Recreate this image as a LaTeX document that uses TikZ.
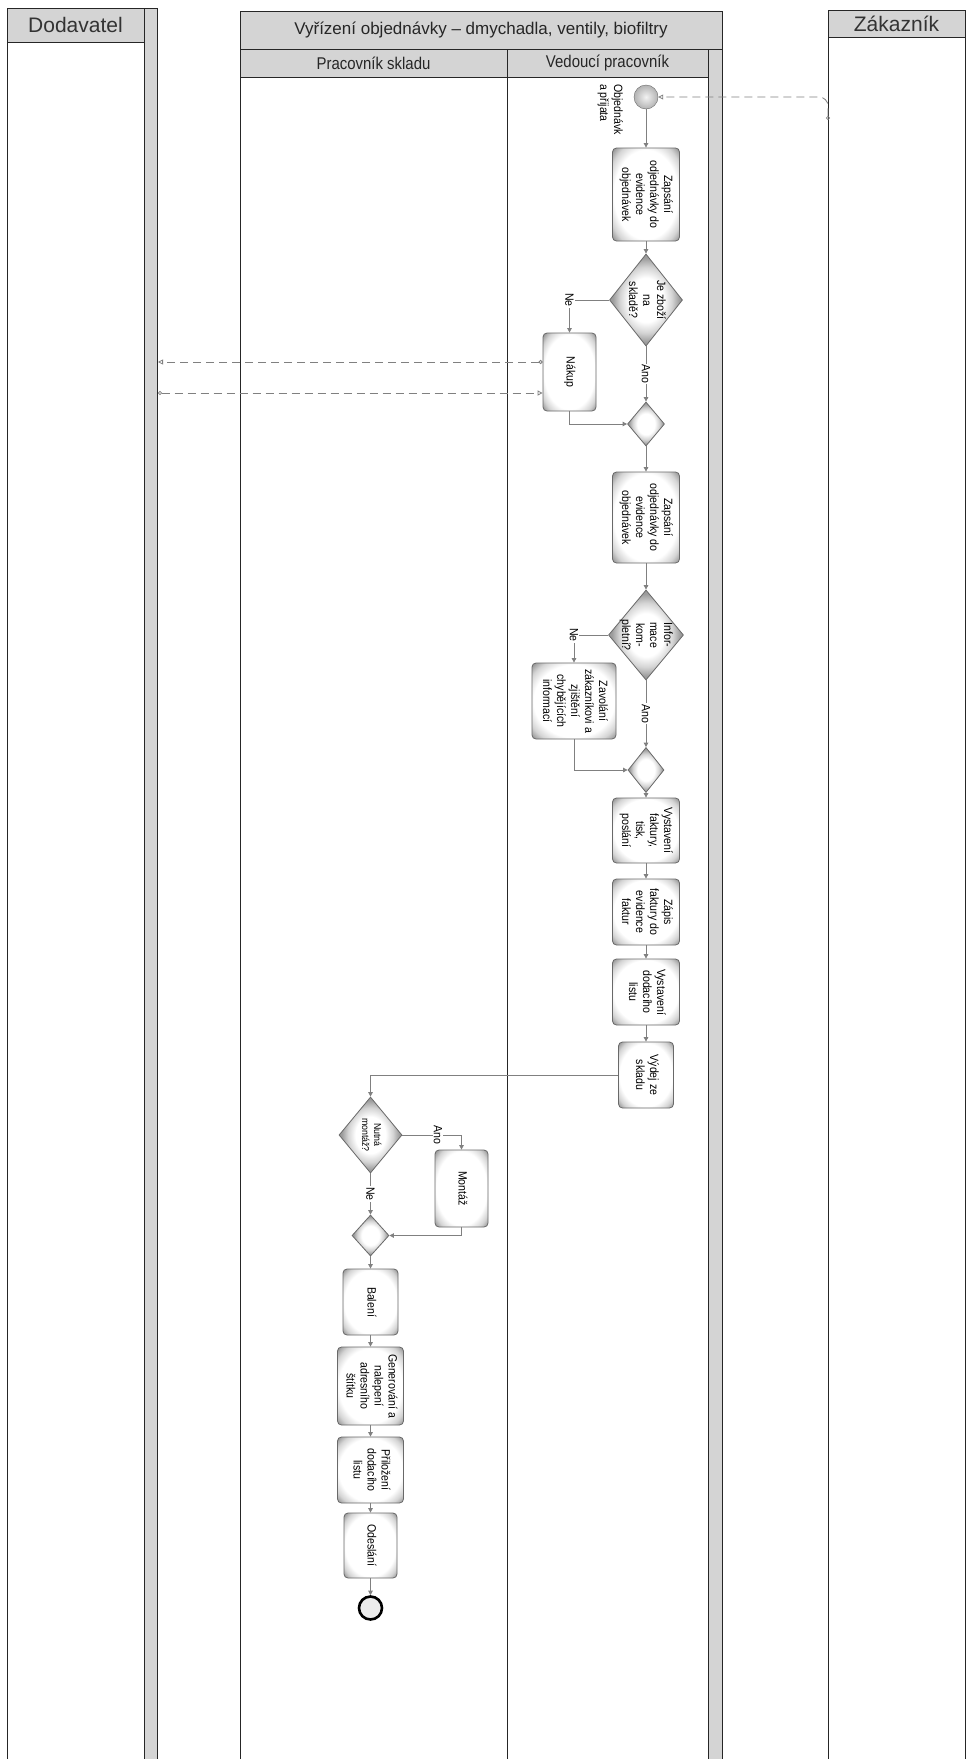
\documentclass[tikz,border=0pt]{standalone}
\usepackage{fontspec}
\setmainfont{Liberation Sans}
\newfontfamily\narrowsans{Liberation Sans}[FakeStretch=0.88]
\usepackage{tikz}
\usetikzlibrary{arrows.meta}
\usetikzlibrary{shapes.geometric}
\usetikzlibrary{positioning}
\definecolor{lgray}{RGB}{212,212,212}
\definecolor{fgray}{RGB}{128,128,128}
\definecolor{bgray}{RGB}{105,105,105}
\definecolor{midgray}{RGB}{212,212,212}
\definecolor{edgegray}{RGB}{155,155,155}
\pgfdeclareradialshading{glow}{\pgfpoint{0bp}{0bp}}{color(0bp)=(white); color(24bp)=(white); color(30bp)=(midgray); color(34bp)=(edgegray); color(50bp)=(edgegray)}
\pgfdeclareradialshading{glowd}{\pgfpoint{0bp}{0bp}}{color(0bp)=(white); color(12bp)=(white); color(18bp)=(midgray); color(23bp)=(edgegray); color(50bp)=(edgegray)}
\newcommand{\vtext}[1]{\rotatebox{-90}{\begin{tabular}{@{}c@{}}#1\end{tabular}}}
\tikzset{head/.style = {draw=black!85, fill=lgray, line width=0.9pt}}
\tikzset{pool/.style = {draw=black!85, line width=0.9pt}}
\tikzset{pooltitle/.style = {font=\fontsize{21}{25}\selectfont, text=black!80}}
\tikzset{lanetitle/.style = {font=\narrowsans\fontsize{17}{20}\selectfont, text=black!85}}
\tikzset{task/.style = {draw=bgray, rounded corners=4pt, shading=glow, inner sep=0pt, line width=0.8pt}}
\tikzset{gw/.style = {diamond, draw=bgray, shading=glowd, inner sep=0pt, line width=0.8pt}}
\tikzset{flow/.style = {draw=fgray, line width=0.8pt, -{Triangle[length=4.5pt, width=4.5pt]}}}
\tikzset{msg/.style = {draw=fgray, line width=0.8pt, dash pattern=on 8pt off 5pt,
                       {Circle[open, length=4pt]}-{Triangle[open, length=5pt, width=5pt]}}}
\tikzset{lbl/.style = {fill=white, inner sep=1pt}}

\begin{document}
\begin{tikzpicture}[x=1pt, y=-1pt, font=\narrowsans\fontsize{12}{14}\selectfont]
      \useasboundingbox (0,0) rectangle (967,1759);
      \fill [white] (0,0) rectangle (967,1759);

      \draw [pool] (7,42) -- (7,1770);
      \draw [head] (7,8) rectangle (144,42);
      \draw [head] (144,8) rectangle (157,1770);
      \node [pooltitle] (dodavatel) at (75.5,25) {Dodavatel};

      \draw [head] (240,11) rectangle (722,49);
      \draw [head] (240,49) rectangle (507,77);
      \draw [head] (507,49) rectangle (708,77);
      \draw [head] (708,49) rectangle (722,1770);
      \draw [pool] (240,77) -- (240,1770) (507,77) -- (507,1770);
      \node [lanetitle, font=\fontsize{17}{20}\selectfont] (proces) at (481,30) {Vyřízení objednávky – dmychadla, ventily, biofiltry};
      \node [lanetitle] (sklad) at (373.5,63) {Pracovník skladu};
      \node [lanetitle] (vedouci) at (607.5,63) {Vedoucí pracovník};

      \draw [head] (828,10) rectangle (965,37);
      \draw [pool] (828,37) -- (828,1770) (965,37) -- (965,1770);
      \node [pooltitle] (zakaznik) at (896.5,23.5) {Zákazník};

      \node [circle, minimum size=24pt, inner sep=0, draw=bgray, shading=radial, inner color=gray!10, outer color=gray!60] (start) at (646,97) {};
      \node [anchor=north east, inner sep=0] (startlbl) at (624,84) {\rotatebox{-90}{\begin{tabular}{@{}l@{}}Objednávk\\a přijata\end{tabular}}};

      \node [task, minimum width=67pt, minimum height=93pt] (zapis1) at (646,194.5) {\vtext{Zapsání\\odjednávky do\\evidence\\objednávek}};
      \node [gw, minimum width=73pt, minimum height=92pt, label={center:\vtext{Je zboží\\na\\skladě?}}] (sklade) at (646,300) {};
      \node [task, minimum width=53pt, minimum height=78pt] (nakup) at (569.5,372) {\vtext{Nákup}};
      \node [gw, minimum width=37pt, minimum height=44pt] (merge1) at (646,424) {};
      \node [task, minimum width=67pt, minimum height=91pt] (zapis2) at (646,517.5) {\vtext{Zapsání\\odjednávky do\\evidence\\objednávek}};
      \node [gw, minimum width=75pt, minimum height=90pt, label={center:\vtext{Infor-\\mace\\kom-\\pletní?}}] (kompletni) at (646,635) {};
      \node [task, minimum width=84pt, minimum height=76pt] (zavolani) at (574,701) {\vtext{Zavolání\\zákazníkovi a\\zjištění\\chybějících\\informací}};
      \node [gw, minimum width=36pt, minimum height=45pt] (merge2) at (646,770) {};
      \node [task, minimum width=67pt, minimum height=65pt] (faktura) at (646,830.5) {\vtext{Vystavení\\faktury,\\tisk,\\poslání}};
      \node [task, minimum width=67pt, minimum height=66pt] (zapisfak) at (646,912) {\vtext{Zápis\\faktury do\\evidence\\faktur}};
      \node [task, minimum width=67pt, minimum height=66pt] (dodaci) at (646,992) {\vtext{Vystavení\\dodacího\\listu}};
      \node [task, minimum width=55pt, minimum height=66pt] (vydej) at (646,1075) {\vtext{Výdej ze\\skladu}};

      \node [gw, minimum width=63pt, minimum height=76pt, label={[font=\narrowsans\fontsize{10}{12}\selectfont]center:\vtext{Nutná\\montáž?}}] (montazq) at (370.5,1135) {};
      \node [task, minimum width=53pt, minimum height=77pt] (montaz) at (461.5,1188.5) {\vtext{Montáž}};
      \node [gw, minimum width=37pt, minimum height=41pt] (merge3) at (370.5,1235.5) {};
      \node [task, minimum width=55pt, minimum height=66pt] (baleni) at (370.5,1302) {\vtext{Balení}};
      \node [task, minimum width=66pt, minimum height=78pt] (stitek) at (370.5,1386) {\vtext{Generování a\\nalepení\\adresního\\štítku}};
      \node [task, minimum width=66pt, minimum height=66pt] (prilozeni) at (370.5,1470) {\vtext{Přiložení\\dodacího\\listu}};
      \node [task, minimum width=53pt, minimum height=65pt] (odeslani) at (370.5,1545.5) {\vtext{Odeslání}};
      \node [circle, minimum size=23pt, inner sep=0, draw=black, line width=2.6pt, fill=gray!15] (konec) at (370.5,1608) {};

      \draw [flow] (start) -- (zapis1);
      \draw [flow] (zapis1) -- (sklade);
      \draw [flow] (sklade) -| node [lbl, pos=0.5] {\rotatebox{-90}{Ne}} (nakup);
      \draw [flow] (sklade) -- node [lbl] {\rotatebox{-90}{Ano}} (merge1);
      \draw [flow] (nakup) |- (merge1);
      \draw [flow] (merge1) -- (zapis2);
      \draw [flow] (zapis2) -- (kompletni);
      \draw [flow] (kompletni) -| node [lbl, pos=0.5] {\rotatebox{-90}{Ne}} (zavolani);
      \draw [flow] (kompletni) -- node [lbl] {\rotatebox{-90}{Ano}} (merge2);
      \draw [flow] (zavolani) |- (merge2);
      \draw [flow] (merge2) -- (faktura);
      \draw [flow] (faktura) -- (zapisfak);
      \draw [flow] (zapisfak) -- (dodaci);
      \draw [flow] (dodaci) -- (vydej);
      \draw [flow] (vydej) -| (montazq);
      \draw [flow] (montazq) -| node [lbl, pos=0.3] {\rotatebox{-90}{Ano}} (montaz);
      \draw [flow] (montazq) -- node [lbl] {\rotatebox{-90}{Ne}} (merge3);
      \draw [flow] (montaz) |- (merge3);
      \draw [flow] (merge3) -- (baleni);
      \draw [flow] (baleni) -- (stitek);
      \draw [flow] (stitek) -- (prilozeni);
      \draw [flow] (prilozeni) -- (odeslani);
      \draw [flow] (odeslani) -- (konec);

      \coordinate (zakmsg) at (828,120);
      \coordinate (dodout) at (158,362);
      \coordinate (dodin) at (158,393);
      \draw [msg, rounded corners=9pt] (zakmsg) |- (start);
      \draw [msg] (nakup.west |- dodout) -- (dodout);
      \draw [msg] (dodin) -- (nakup.west |- dodin);
    \end{tikzpicture}
\end{document}
